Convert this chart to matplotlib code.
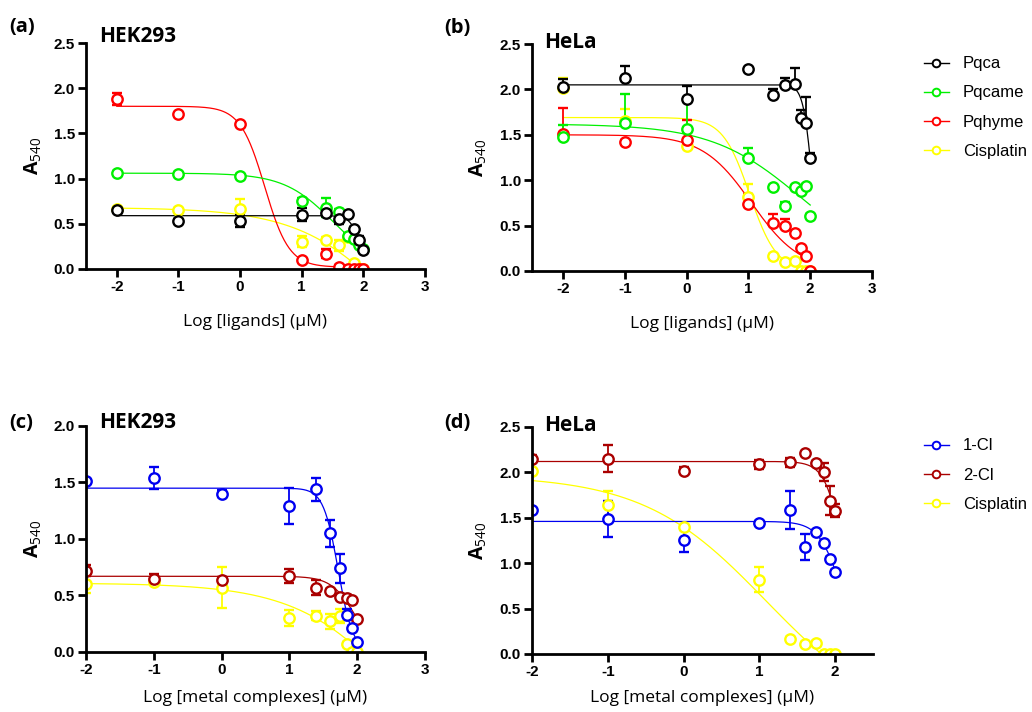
import numpy as np
import matplotlib
matplotlib.use('Agg')
import matplotlib.pyplot as plt
from matplotlib.lines import Line2D

plt.rcParams['font.family'] = ['Open Sans', 'DejaVu Sans']
plt.rcParams['axes.unicode_minus'] = False
plt.rcParams['mathtext.fontset'] = 'custom'
plt.rcParams['mathtext.bf'] = 'Open Sans:bold'
plt.rcParams['mathtext.rm'] = 'Open Sans'

# log concentrations (same for every series)
log_conc = [-2, -1, 0, 1, 1.4, 1.6, 1.75, 1.85, 1.93, 2.0]

# (a) HEK293, ligands
pqca_a = [0.65, 0.53, 0.53, 0.60, 0.62, 0.55, 0.61, 0.44, 0.32, 0.21]
pqca_a_err = [0.02, 0.02, 0.07, 0.07, 0.03, 0.05, 0.02, 0.03, 0.04, 0.02]
pqcame_a = [1.06, 1.05, 1.03, 0.75, 0.68, 0.63, 0.37, 0.33, 0.27, 0.22]
pqcame_a_err = [0.02, 0.02, 0.02, 0.03, 0.10, 0.03, 0.03, 0.03, 0.03, 0.03]
pqhyme_a = [1.88, 1.71, 1.60, 0.10, 0.17, 0.02, 0.0, 0.0, 0.0, 0.0]
pqhyme_a_err = [0.07, 0.02, 0.02, 0.02, 0.05, 0.02, 0.01, 0.01, 0.01, 0.01]
cis_a = [0.66, 0.65, 0.66, 0.30, 0.32, 0.26, 0.35, 0.07, 0.0, 0.0]
cis_a_err = [0.03, 0.02, 0.11, 0.06, 0.03, 0.06, 0.03, 0.02, 0.01, 0.01]

# (b) HeLa, ligands (error bars drawn above only)
pqca_b = [2.03, 2.13, 1.89, 2.23, 1.94, 2.05, 2.06, 1.69, 1.63, 1.24]
pqca_b_err = [0.09, 0.13, 0.15, 0.01, 0.06, 0.08, 0.18, 0.08, 0.29, 0.06]
pqcame_b = [1.48, 1.63, 1.56, 1.24, 0.93, 0.72, 0.92, 0.88, 0.94, 0.61]
pqcame_b_err = [0.13, 0.32, 0.33, 0.11, 0.02, 0.04, 0.02, 0.02, 0.02, 0.02]
pqhyme_b = [1.51, 1.42, 1.44, 0.74, 0.53, 0.49, 0.42, 0.25, 0.16, 0.0]
pqhyme_b_err = [0.29, 0.02, 0.22, 0.11, 0.10, 0.08, 0.02, 0.02, 0.02, 0.01]
cis_b = [2.02, 1.65, 1.38, 0.82, 0.17, 0.10, 0.11, 0.0, 0.0, 0.0]
cis_b_err = [0.11, 0.13, 0.02, 0.14, 0.02, 0.02, 0.02, 0.01, 0.01, 0.01]

# (c) HEK293, metal complexes
cl1_c = [1.51, 1.54, 1.40, 1.29, 1.44, 1.05, 0.74, 0.33, 0.21, 0.09]
cl1_c_err = [0.02, 0.10, 0.03, 0.16, 0.10, 0.12, 0.13, 0.05, 0.02, 0.02]
cl2_c = [0.72, 0.65, 0.64, 0.67, 0.57, 0.54, 0.49, 0.48, 0.46, 0.29]
cl2_c_err = [0.05, 0.04, 0.02, 0.06, 0.07, 0.02, 0.02, 0.02, 0.02, 0.02]
cis_c = [0.60, 0.62, 0.57, 0.30, 0.32, 0.27, 0.32, 0.07, 0.0, 0.0]
cis_c_err = [0.08, 0.03, 0.18, 0.07, 0.04, 0.07, 0.06, 0.02, 0.01, 0.01]

# (d) HeLa, metal complexes
cl1_d = [1.59, 1.49, 1.26, 1.44, 1.59, 1.18, 1.34, 1.22, 1.05, 0.90]
cl1_d_err = [0.02, 0.20, 0.14, 0.02, 0.21, 0.14, 0.02, 0.02, 0.02, 0.02]
cl2_d = [2.15, 2.15, 2.02, 2.09, 2.11, 2.21, 2.10, 2.00, 1.69, 1.58]
cl2_d_err = [0.04, 0.15, 0.04, 0.05, 0.05, 0.01, 0.02, 0.10, 0.16, 0.07]
cis_d = [2.02, 1.64, 1.40, 0.82, 0.17, 0.11, 0.12, 0.0, 0.0, 0.0]
cis_d_err = [0.03, 0.15, 0.02, 0.14, 0.02, 0.02, 0.02, 0.01, 0.01, 0.01]

# dose-response fit parameters: top, bottom, logIC50, hill slope
fit_a = {'Pqca': (0.59, 0, 1.95, 5), 'Pqcame': (1.06, 0, 1.5, 1.1),
         'Pqhyme': (1.80, 0.02, 0.4, 2.2), 'Cisplatin': (0.68, -1.5, 2.58, 0.55)}
fit_b = {'Pqca': (2.05, 0, 2.03, 6), 'Pqcame': (1.62, 0, 1.85, 0.6),
         'Pqhyme': (1.50, 0, 1.05, 1.1), 'Cisplatin': (1.69, 0, 1.02, 2)}
fit_c = {'1-Cl': (1.45, 0, 1.72, 4), '2-Cl': (0.67, 0, 1.96, 2.5),
         'Cisplatin': (0.61, -1.5, 2.76, 0.556)}
fit_d = {'1-Cl': (1.46, 0, 2.078, 2.97), '2-Cl': (2.12, 0, 2.12, 3.6),
         'Cisplatin': (1.97, -0.8, 1.088, 0.536)}

colors = {'Pqca': 'black', 'Pqcame': '#00f000', 'Pqhyme': '#ff0000',
          'Cisplatin': '#ffff00', '1-Cl': '#0000f0', '2-Cl': '#aa0000'}


def dose_response(x, top, bottom, c, h):
    return bottom + (top - bottom) / (1 + 10 ** (h * (x - c)))


def draw_series(ax, name, y, err, params, upper_only=False):
    col = colors[name]
    xs = np.linspace(-2, 2, 300)
    ax.plot(xs, dose_response(xs, *params), color=col, lw=0.9)
    yerr = [np.zeros(len(err)), err] if upper_only else err
    ax.errorbar(log_conc, y, yerr=yerr, fmt='o', color=col, mfc='white',
                ms=7.5, mew=1.7, elinewidth=1.3, capsize=3.5, capthick=1.3)


def style_axis(ax, ymax, xmin, xmax, xticks, xlabel, xlabel_y):
    ax.set_xlim(xmin, xmax)
    ax.set_ylim(0, ymax)
    ax.spines['top'].set_visible(False)
    ax.spines['right'].set_visible(False)
    ax.spines['left'].set_linewidth(2)
    ax.spines['bottom'].set_linewidth(2)
    ax.tick_params(width=2, length=6, pad=2)
    tick_font = {'family': 'Liberation Sans', 'weight': 'bold', 'size': 11}
    ax.set_xticks(xticks)
    ax.set_xticklabels([str(t) for t in xticks], fontdict=tick_font)
    yt = np.arange(0, ymax + 0.01, 0.5)
    ax.set_yticks(yt)
    ax.set_yticklabels(['%.1f' % t for t in yt], fontdict=tick_font)
    ax.set_ylabel(r'A$_{\mathrm{540}}$', fontsize=14, fontweight='bold')
    ax.yaxis.set_label_coords(-0.125, 0.5)
    ax.set_xlabel(xlabel, fontsize=12.5)
    ax.xaxis.set_label_coords(0.5, xlabel_y)


fig = plt.figure(figsize=(10.32, 7.12), dpi=100)
ax_a = fig.add_axes([0.0833, 0.6222, 0.3285, 0.3174])
ax_b = fig.add_axes([0.5155, 0.6194, 0.3295, 0.3188])
ax_c = fig.add_axes([0.0833, 0.0843, 0.3285, 0.3174])
ax_d = fig.add_axes([0.5155, 0.0815, 0.3305, 0.3188])

# drawing order: cisplatin first so the others sit on top
draw_series(ax_a, 'Cisplatin', cis_a, cis_a_err, fit_a['Cisplatin'])
draw_series(ax_a, 'Pqhyme', pqhyme_a, pqhyme_a_err, fit_a['Pqhyme'])
draw_series(ax_a, 'Pqcame', pqcame_a, pqcame_a_err, fit_a['Pqcame'])
draw_series(ax_a, 'Pqca', pqca_a, pqca_a_err, fit_a['Pqca'])

draw_series(ax_b, 'Cisplatin', cis_b, cis_b_err, fit_b['Cisplatin'], True)
draw_series(ax_b, 'Pqhyme', pqhyme_b, pqhyme_b_err, fit_b['Pqhyme'], True)
draw_series(ax_b, 'Pqcame', pqcame_b, pqcame_b_err, fit_b['Pqcame'], True)
draw_series(ax_b, 'Pqca', pqca_b, pqca_b_err, fit_b['Pqca'], True)

draw_series(ax_c, 'Cisplatin', cis_c, cis_c_err, fit_c['Cisplatin'])
draw_series(ax_c, '2-Cl', cl2_c, cl2_c_err, fit_c['2-Cl'])
draw_series(ax_c, '1-Cl', cl1_c, cl1_c_err, fit_c['1-Cl'])

draw_series(ax_d, 'Cisplatin', cis_d, cis_d_err, fit_d['Cisplatin'])
draw_series(ax_d, '2-Cl', cl2_d, cl2_d_err, fit_d['2-Cl'])
draw_series(ax_d, '1-Cl', cl1_d, cl1_d_err, fit_d['1-Cl'])

style_axis(ax_a, 2.5, -2.5, 3, [-2, -1, 0, 1, 2, 3], 'Log [ligands] (μM)', -0.2)
style_axis(ax_b, 2.5, -2.5, 3, [-2, -1, 0, 1, 2, 3], 'Log [ligands] (μM)', -0.2)
style_axis(ax_c, 2.0, -2, 3, [-2, -1, 0, 1, 2, 3], 'Log [metal complexes] (μM)', -0.17)
style_axis(ax_d, 2.5, -2, 2.5, [-2, -1, 0, 1, 2], 'Log [metal complexes] (μM)', -0.16)

# panel letters and cell line titles
W, H = 1032, 712
for lab, px, py in [('(a)', 9, 27), ('(b)', 444, 28), ('(c)', 9, 423), ('(d)', 444, 423)]:
    fig.text(px / W, 1 - py / H, lab, fontsize=14.5, fontweight='bold', va='center')
for lab, px, py in [('HEK293', 99, 37), ('HeLa', 544, 43), ('HEK293', 99, 423), ('HeLa', 544, 425)]:
    fig.text(px / W, 1 - py / H, lab, fontsize=15, fontweight='bold', va='center')


def legend_handles(names):
    return [Line2D([0], [0], color=colors[n], lw=1, marker='o', mfc='white',
                   ms=5.5, mew=1.4) for n in names]


names_top = ['Pqca', 'Pqcame', 'Pqhyme', 'Cisplatin']
names_bot = ['1-Cl', '2-Cl', 'Cisplatin']
leg_kw = dict(loc='upper left', frameon=False, borderpad=0, handlelength=1.45,
              handletextpad=0.85, labelspacing=0.85,
              prop={'family': 'Liberation Sans', 'size': 12})
fig.legend(legend_handles(names_top), names_top,
           bbox_to_anchor=(916 / W, 1 - 48 / H), **leg_kw)
fig.legend(legend_handles(names_bot), names_bot,
           bbox_to_anchor=(916 / W, 1 - 430 / H), **leg_kw)

fig.savefig('out.png', dpi=100)
